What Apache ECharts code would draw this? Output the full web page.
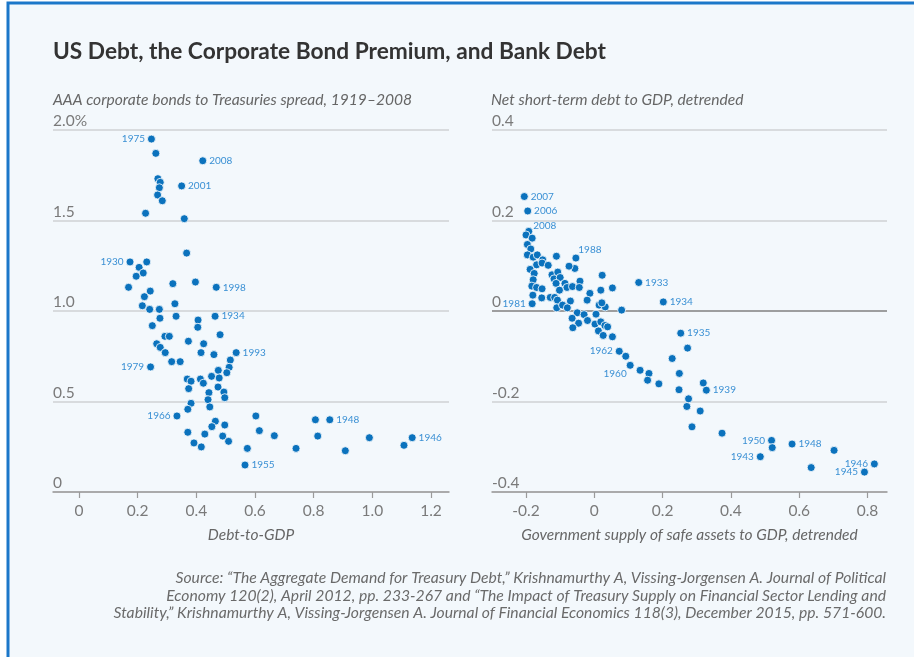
<!DOCTYPE html>
<html><head><meta charset="utf-8">
<script src="https://cdn.jsdelivr.net/npm/echarts@6/dist/echarts.min.js"></script>
<style>html,body{margin:0;padding:0;background:#fff}#c{width:914px;height:657px}</style>
</head><body><div id="c"></div>
<script>
// ---------- DATA ----------
const titleText = 'US Debt, the Corporate Bond Premium, and Bank Debt';
const leftSubtitle = 'AAA corporate bonds to Treasuries spread, 1919\u20132008';
const rightSubtitle = 'Net short-term debt to GDP, detrended';
const leftXName = 'Debt-to-GDP';
const rightXName = 'Government supply of safe assets to GDP, detrended';
const sourceLines = [
  'Source: \u201cThe Aggregate Demand for Treasury Debt,\u201d Krishnamurthy A, Vissing-Jorgensen A. Journal of Political',
  'Economy 120(2), April 2012, pp. 233-267 and \u201cThe Impact of Treasury Supply on Financial Sector Lending and',
  'Stability,\u201d Krishnamurthy A, Vissing-Jorgensen A. Journal of Financial Economics 118(3), December 2015, pp. 571-600.'
];

const leftXTicks = [0, 0.2, 0.4, 0.6, 0.8, 1.0, 1.2];
const leftXTickLabels = ['0', '0.2', '0.4', '0.6', '0.8', '1.0', '1.2'];
const leftYTicks = [0, 0.5, 1.0, 1.5, 2.0];
const leftYTickLabels = ['0', '0.5', '1.0', '1.5', '2.0%'];
const rightXTicks = [-0.2, 0, 0.2, 0.4, 0.6, 0.8];
const rightXTickLabels = ['-0.2', '0', '0.2', '0.4', '0.6', '0.8'];
const rightYTicks = [-0.4, -0.2, 0, 0.2, 0.4];
const rightYTickLabels = ['-0.4', '-0.2', '0', '0.2', '0.4'];

// Left panel: debt-to-GDP vs AAA-Treasury spread (%)
const leftX = [0.247,0.262,0.422,0.269,0.277,0.274,0.350,0.268,0.284,0.227,0.359,0.367,0.174,0.231,0.205,0.219,0.195,0.169,0.320,0.397,
  0.468,0.243,0.223,0.327,0.216,0.241,0.274,0.331,0.276,0.464,0.406,0.250,0.405,0.481,0.293,0.308,0.373,0.265,0.425,0.277,
  0.294,0.416,0.460,0.536,0.516,0.316,0.345,0.512,0.244,0.475,0.504,0.452,0.478,0.369,0.382,0.414,0.424,0.374,0.474,0.443,
  0.494,0.440,0.497,0.382,0.446,0.371,0.334,0.603,0.465,0.497,0.453,0.615,0.371,0.429,0.490,0.666,0.392,0.510,0.417,0.574,
  0.806,0.855,0.814,0.990,1.136,1.108,0.740,0.908,0.566];
const leftY = [1.950,1.871,1.830,1.731,1.711,1.681,1.691,1.641,1.609,1.540,1.510,1.320,1.271,1.271,1.241,1.210,1.192,1.131,1.151,1.160,
  1.131,1.110,1.079,1.040,1.029,1.009,1.009,0.971,0.960,0.971,0.950,0.919,0.910,0.869,0.860,0.860,0.833,0.819,0.819,0.799,
  0.770,0.770,0.759,0.770,0.729,0.720,0.720,0.689,0.691,0.672,0.659,0.639,0.630,0.624,0.612,0.624,0.601,0.571,0.580,0.549,
  0.552,0.510,0.521,0.490,0.470,0.457,0.420,0.420,0.391,0.370,0.361,0.339,0.330,0.320,0.309,0.311,0.271,0.280,0.249,0.241,
  0.399,0.399,0.309,0.300,0.300,0.258,0.241,0.228,0.149];
const leftYears = ['1975','','2008','','','','2001','','','','','','1930','','','','','','','',
  '1998','','','','','','','','','1934','','','','','','','','','','',
  '','','','1993','','','','','1979','','','','','','','','','','','',
  '','','','','','','1966','','','','','','','','','','','','','',
  '','1948','','','1946','','','','1955'];

// Right panel: safe-asset supply vs net short-term debt
const rightX = [-0.205,-0.195,-0.192,-0.200,-0.182,-0.196,-0.186,-0.196,-0.179,-0.167,-0.151,-0.169,-0.153,-0.135,-0.111,-0.054,-0.057,-0.074,-0.188,-0.176,
  -0.124,-0.107,-0.118,-0.100,-0.112,-0.179,-0.183,-0.169,-0.153,-0.086,-0.080,-0.102,-0.064,-0.042,-0.044,0.023,-0.013,0.019,0.053,0.130,
  -0.180,-0.154,-0.129,-0.116,-0.108,-0.070,-0.021,-0.182,-0.110,-0.093,-0.079,0.014,0.032,0.022,0.080,-0.050,-0.065,-0.030,0.005,-0.020,
  -0.046,-0.063,0.002,0.019,0.031,0.039,0.012,0.026,0.053,0.202,0.253,0.273,0.073,0.092,0.228,0.105,0.134,0.160,0.249,0.156,
  0.189,0.319,0.328,0.248,0.276,0.271,0.310,0.286,0.374,0.519,0.521,0.486,0.579,0.702,0.635,0.820,0.791];
const rightY = [0.253,0.221,0.176,0.168,0.161,0.147,0.137,0.124,0.119,0.124,0.113,0.102,0.106,0.101,0.121,0.117,0.094,0.099,0.092,0.083,
  0.080,0.086,0.071,0.074,0.061,0.069,0.055,0.052,0.049,0.061,0.052,0.046,0.054,0.066,0.052,0.079,0.039,0.046,0.051,0.063,
  0.035,0.029,0.030,0.030,0.024,0.022,0.024,0.016,0.007,0.013,0.007,0.013,0.009,0.018,0.002,-0.004,-0.016,-0.008,-0.007,-0.021,
  -0.027,-0.037,-0.029,-0.024,-0.032,-0.035,-0.044,-0.054,-0.057,0.020,-0.049,-0.082,-0.089,-0.100,-0.105,-0.120,-0.131,-0.138,-0.138,-0.153,
  -0.161,-0.159,-0.175,-0.174,-0.194,-0.211,-0.221,-0.256,-0.270,-0.286,-0.302,-0.322,-0.294,-0.308,-0.346,-0.338,-0.356];
const rightYears = ['2007','2006','2008','','','','','','','','','','','','','1988','','','','',
  '','','','','','','','','','','','','','','','','','','','1933',
  '','','','','','','','1981','','','','','','','','','','','','',
  '','','','','','','','','','1934','1935','','1962','','','','1960','','','',
  '','','1939','','','','','','','1950','','1943','1948','','','1946','1945'];

// ---------- STYLE ----------
const FONT = 'Lato, "Noto Sans", sans-serif';
const PT = '#0b72bd';
const LBL = '#3a90d4';
const GRAYTXT = '#7a7a7a';
const leftSide = {'1975':'left','1930':'left','1979':'left','1966':'left'};
const rightSide = {'1981':'left','1962':'left','1960':'left','1950':'left','1943':'left','1946':'left','1945':'left'};
const rightOffset = {'2008':[-2,-6],'1988':[-4,-8],'1960':[-7,4]};

function pts(xs, ys, yrs, side, offs) {
  return xs.map((x, i) => {
    const d = {value: [x, ys[i]]};
    const y = yrs[i];
    if (y) {
      d.label = {show: true, formatter: y, position: side[y] || 'right',
        offset: (offs && offs[y]) || [0, 0]};
    }
    return d;
  });
}
function lab(ticks, labels) { return v => { const i = ticks.findIndex(t => Math.abs(t - v) < 1e-9); return i >= 0 ? labels[i] : ''; }; }

const chart = echarts.init(document.getElementById('c'), null, {renderer: 'canvas'});
const xAxisCommon = {
  type: 'value',
  axisLine: {show: true, onZero: false, lineStyle: {color: '#9a9a9a', width: 1.5}},
  axisTick: {show: true, length: 6, lineStyle: {color: '#9a9a9a', width: 1.2}},
  axisLabel: {color: GRAYTXT, fontSize: 15.5, fontFamily: FONT, margin: 11},
  splitLine: {show: false},
  nameLocation: 'middle', nameGap: 35,
  nameTextStyle: {color: '#666', fontSize: 15.5, fontStyle: 'italic', fontFamily: FONT}
};
const yAxisCommon = {
  type: 'value',
  axisLine: {show: false}, axisTick: {show: false},
  axisLabel: {inside: true, margin: 0, verticalAlign: 'bottom', align: 'left', color: GRAYTXT, fontSize: 15.5, fontFamily: FONT, padding: [0, 0, 1, 0]},
  splitLine: {show: true, lineStyle: {color: '#cfd2d5', width: 1.5}}
};
const labelStyle = {fontSize: 10, color: LBL, fontFamily: FONT, distance: 2};

chart.setOption({
  animation: false,
  backgroundColor: '#ffffff',
  textStyle: {fontFamily: FONT},
  grid: [
    {left: 53, top: 130, width: 396, height: 362},
    {left: 492, top: 130, width: 395, height: 362}
  ],
  xAxis: [
    Object.assign({}, xAxisCommon, {gridIndex: 0, min: -0.0886, max: 1.2615, name: leftXName,
      axisLabel: Object.assign({}, xAxisCommon.axisLabel, {customValues: leftXTicks, formatter: lab(leftXTicks, leftXTickLabels)}),
      axisTick: Object.assign({}, xAxisCommon.axisTick, {customValues: leftXTicks})}),
    Object.assign({}, xAxisCommon, {gridIndex: 1, min: -0.2996, max: 0.857, name: rightXName,
      axisLabel: Object.assign({}, xAxisCommon.axisLabel, {customValues: rightXTicks, formatter: lab(rightXTicks, rightXTickLabels)}),
      axisTick: Object.assign({}, xAxisCommon.axisTick, {customValues: rightXTicks})})
  ],
  yAxis: [
    Object.assign({}, yAxisCommon, {gridIndex: 0, min: 0, max: 2, interval: 0.5,
      axisLabel: Object.assign({}, yAxisCommon.axisLabel, {formatter: lab(leftYTicks, leftYTickLabels)})}),
    Object.assign({}, yAxisCommon, {gridIndex: 1, min: -0.4, max: 0.4, interval: 0.2,
      axisLabel: Object.assign({}, yAxisCommon.axisLabel, {formatter: lab(rightYTicks, rightYTickLabels)})})
  ],
  series: [
    {type: 'scatter', xAxisIndex: 0, yAxisIndex: 0, symbolSize: 8, z: 5,
      itemStyle: {color: PT, borderColor: '#ffffff', borderWidth: 0.8, opacity: 1},
      label: labelStyle, emphasis: {disabled: true},
      data: pts(leftX, leftY, leftYears, leftSide, null)},
    {type: 'scatter', xAxisIndex: 1, yAxisIndex: 1, symbolSize: 8, z: 5,
      itemStyle: {color: PT, borderColor: '#ffffff', borderWidth: 0.8, opacity: 1},
      label: labelStyle, emphasis: {disabled: true},
      data: pts(rightX, rightY, rightYears, rightSide, rightOffset),
      markLine: {silent: true, symbol: 'none', label: {show: false}, animation: false,
        lineStyle: {color: '#8a8a8a', width: 1.5, type: 'solid'}, data: [{yAxis: 0}]}}
  ],
  graphic: [
    {type: 'rect', z: -100, silent: true, shape: {x: 8, y: 3, width: 960, height: 720},
      style: {fill: '#f3f8fc', stroke: '#1b77c9', lineWidth: 3}},
    {type: 'text', x: 53, y: 52, silent: true, style: {text: titleText, fill: '#333333', font: 'bold 22.7px ' + FONT, textVerticalAlign: 'middle'}},
    {type: 'text', x: 53, y: 100, silent: true, style: {text: leftSubtitle, fill: '#666666', font: 'italic 15.6px ' + FONT, textVerticalAlign: 'middle'}},
    {type: 'text', x: 491, y: 100, silent: true, style: {text: rightSubtitle, fill: '#666666', font: 'italic 15.6px ' + FONT, textVerticalAlign: 'middle'}},
    {type: 'text', x: 886, y: 578, silent: true, style: {text: sourceLines[0], fill: '#6a6a6a', font: 'italic 15.7px ' + FONT, textAlign: 'right', textVerticalAlign: 'middle'}},
    {type: 'text', x: 886, y: 596, silent: true, style: {text: sourceLines[1], fill: '#6a6a6a', font: 'italic 15.7px ' + FONT, textAlign: 'right', textVerticalAlign: 'middle'}},
    {type: 'text', x: 886, y: 613, silent: true, style: {text: sourceLines[2], fill: '#6a6a6a', font: 'italic 15.7px ' + FONT, textAlign: 'right', textVerticalAlign: 'middle'}}
  ]
});
</script></body></html>
